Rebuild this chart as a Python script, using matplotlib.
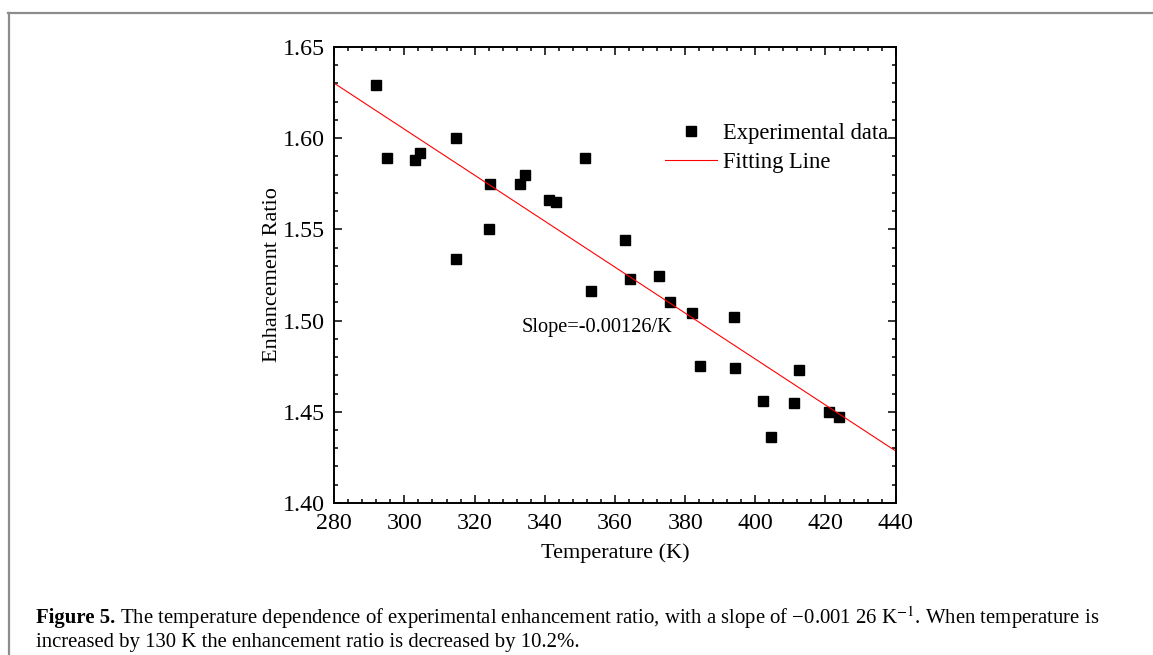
import matplotlib
matplotlib.use("Agg")
import matplotlib.pyplot as plt
import matplotlib.ticker as ticker
from matplotlib.lines import Line2D
import numpy as np

plt.rcParams['font.family'] = ['Liberation Serif', 'DejaVu Serif']
plt.rcParams['mathtext.fontset'] = 'stix'

temperature = [291.8, 294.9, 303.0, 304.5, 314.6, 314.6, 324.1, 324.4, 332.8, 334.3,
               341.3, 343.2, 351.5, 353.1, 363.0, 364.3, 372.6, 375.6, 382.1, 384.3,
               394.0, 394.2, 402.3, 404.4, 411.0, 412.4, 420.9, 423.9]
ratio = [1.629, 1.589, 1.588, 1.592, 1.600, 1.534, 1.550, 1.575, 1.575, 1.580,
         1.566, 1.565, 1.589, 1.516, 1.544, 1.523, 1.5245, 1.510, 1.504, 1.475,
         1.502, 1.474, 1.456, 1.436, 1.455, 1.473, 1.450, 1.447]

# Linear fit parameters
fit_slope = -0.00126
fit_intercept = 1.9829
fit_range = [280, 440]

caption_bold = "Figure 5."
caption_line1 = (" The temperature dependence of experimental enhancement ratio, with a slope of "
                 "\u22120.001 26 K$^{-1}$. When temperature is")
caption_line2 = "increased by 130 K the enhancement ratio is decreased by 10.2%."

fig = plt.figure(figsize=(11.53, 6.55), dpi=100)
ax = fig.add_axes([0.2899, 0.2321, 0.4869, 0.6962])

# Data and fitting line
ax.plot(temperature, ratio, linestyle='none', marker='s', markersize=6.5,
        color='black', label='Experimental data')
fit_x = np.array(fit_range)
ax.plot(fit_x, fit_slope * fit_x + fit_intercept, color='red', linewidth=0.8,
        label='Fitting Line')

ax.set_xlim(280, 440)
ax.set_ylim(1.40, 1.65)
ax.xaxis.set_major_locator(ticker.MultipleLocator(20))
ax.xaxis.set_minor_locator(ticker.MultipleLocator(4))
ax.yaxis.set_major_locator(ticker.MultipleLocator(0.05))
ax.yaxis.set_minor_locator(ticker.MultipleLocator(0.01))
ax.yaxis.set_major_formatter(ticker.FormatStrFormatter('%.2f'))

ax.tick_params(which='both', direction='in', top=True, right=True,
               labelsize=17.3, width=1.1)
ax.tick_params(which='major', length=5.8, pad=7)
ax.tick_params(which='minor', length=3)
for spine in ax.spines.values():
    spine.set_linewidth(1.4)

ax.set_xlabel('Temperature (K)', fontsize=16, labelpad=7)
ax.set_ylabel('Enhancement Ratio', fontsize=16, labelpad=0)

ax.text(333.5, 1.496, 'Slope=-0.00126/K', fontsize=14.7, va='center', ha='left')

ax.legend(loc='upper left', bbox_to_anchor=(0.589, 0.834), frameon=False,
          fontsize=16.3, handlelength=2.3, handletextpad=0.27, labelspacing=0.38,
          borderpad=0, borderaxespad=0, numpoints=1)

# Grey frame around the figure panel
fig.add_artist(Line2D([8 / 1153, 1.0], [1 - 13 / 655, 1 - 13 / 655],
                      color='#8c8c8c', linewidth=1.6))
fig.add_artist(Line2D([9 / 1153, 9 / 1153], [0.0, 1 - 13 / 655],
                      color='#8c8c8c', linewidth=1.6))

# Caption
cap_size = 14.95
t_bold = fig.text(36 / 1153, 1 - 618 / 655, caption_bold, fontsize=cap_size,
                  fontweight='bold', va='center', ha='left')
fig.canvas.draw()
bb = t_bold.get_window_extent()
fig.text(bb.x1 / 1153, 1 - 618 / 655, caption_line1, fontsize=cap_size,
         va='center', ha='left')
fig.text(36 / 1153, 1 - 642 / 655, caption_line2, fontsize=cap_size,
         va='center', ha='left')

fig.savefig('out.png', dpi=100)
